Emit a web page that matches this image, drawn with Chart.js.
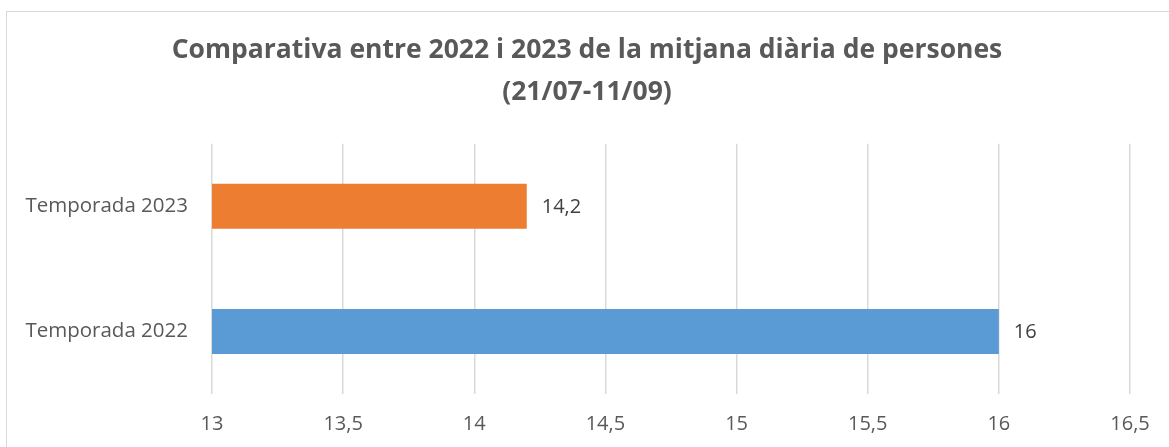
<!DOCTYPE html>
<html>
<head>
<meta charset="utf-8">
<script src="https://cdn.jsdelivr.net/npm/chart.js@4.4.0/dist/chart.umd.min.js"></script>
<style>
  html, body { margin: 0; padding: 0; background: #fff; overflow: hidden; }
  #frame { position: absolute; left: 6px; top: 11px; width: 1300px; height: 600px; border: 1.5px solid #d9d9d9; }
  #wrap { position: absolute; left: 0; top: 0; width: 1169px; height: 447px; }
</style>
</head>
<body>
<div id="frame"></div>
<div id="wrap"><canvas id="chart"></canvas></div>
<script>
// chart data
const categories = ['Temporada 2023', 'Temporada 2022'];
const values = [14.2, 16];
const barColors = ['#ED7D31', '#5B9BD5'];
const titleLines = ['Comparativa entre 2022 i 2023 de la mitjana diària de persones', '(21/07-11/09)'];

const fmt = v => String(v).replace('.', ',');
const FONT = '"Open Sans", sans-serif';

// draws the value at the end of each bar
const valueLabels = {
  id: 'valueLabels',
  afterDatasetsDraw(chart) {
    const ctx = chart.ctx;
    const meta = chart.getDatasetMeta(0);
    ctx.save();
    ctx.font = '20px ' + FONT;
    ctx.fillStyle = '#404040';
    ctx.textAlign = 'left';
    ctx.textBaseline = 'middle';
    meta.data.forEach((bar, i) => {
      ctx.fillText(fmt(values[i]), bar.x + 15, bar.y + 1);
    });
    ctx.restore();
  }
};

// title is centred on the whole frame, not on the plot
const titleShift = {
  id: 'titleShift',
  afterLayout(chart) {
    if (chart.titleBlock) chart.titleBlock.left = 44;
  }
};

new Chart(document.getElementById('chart'), {
  type: 'bar',
  data: {
    labels: categories,
    datasets: [{
      data: values,
      backgroundColor: barColors,
      barPercentage: 0.6,
      categoryPercentage: 0.6
    }]
  },
  options: {
    indexAxis: 'y',
    responsive: true,
    maintainAspectRatio: false,
    animation: false,
    layout: { padding: { left: 0, right: 39, top: 0, bottom: 0 } },
    plugins: {
      legend: { display: false },
      tooltip: { enabled: false },
      title: {
        display: true,
        text: titleLines,
        color: '#595959',
        font: { family: FONT, size: 26.5, weight: 'bold', lineHeight: 1.6 },
        padding: { top: 29, bottom: 30 }
      }
    },
    scales: {
      x: {
        min: 13,
        max: 16.5,
        ticks: {
          stepSize: 0.5,
          padding: 18,
          color: '#595959',
          font: { family: FONT, size: 20 },
          callback: v => fmt(v)
        },
        grid: { color: '#d9d9d9', lineWidth: 1.5, drawTicks: false },
        border: { display: false },
        afterFit: s => { s.height = 53; }
      },
      y: {
        ticks: {
          padding: 16,
          color: '#595959',
          font: { family: FONT, size: 20.5 }
        },
        grid: { display: false },
        border: { display: false },
        afterFit: s => { s.width = 212; }
      }
    }
  },
  plugins: [valueLabels, titleShift]
});
</script>
</body>
</html>
